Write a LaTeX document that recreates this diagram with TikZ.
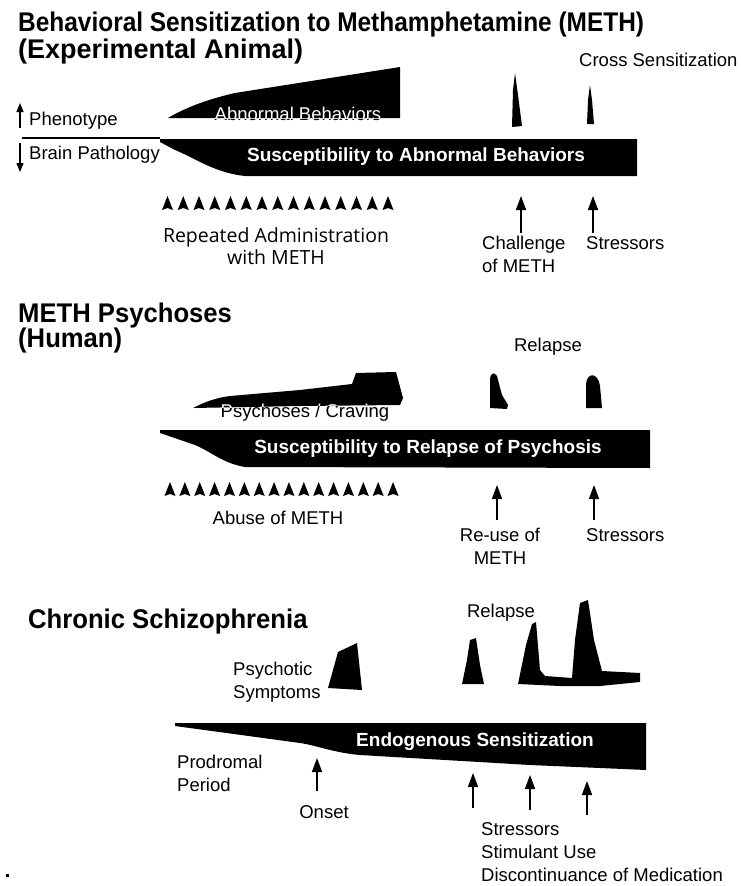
\documentclass[tikz,border=0pt]{standalone}
\usepackage{fontspec}
\setmainfont{Liberation Sans}
\newfontfamily\lucidafam{Open Sans}
\usetikzlibrary{arrows.meta}
\begin{document}
\begin{tikzpicture}[x=1pt,y=-1pt,
  lbl/.style={inner sep=0pt, font=\fontsize{18.5}{23}\selectfont},
  lblL/.style={lbl, align=left},
  ttl/.style={inner sep=0pt, anchor=base west, font=\bfseries\fontsize{27}{30}\selectfont},
  bartxt/.style={inner sep=0pt, text=white, font=\bfseries\fontsize{19}{22}\selectfont},
  uparr/.style={line width=1.6pt, -{Triangle[width=10pt,length=14pt]}},
  smallarr/.style={line width=1.3pt, -{Triangle[width=7pt,length=9pt]}},
]
\useasboundingbox (0,0) rectangle (741,886);

% ---------------- Section 1 ----------------
\node[ttl] (t1) at (18,31) {\scalebox{0.905}[1]{Behavioral Sensitization to Methamphetamine (METH)}};
\node[ttl] (t1b) at (18,58) {\scalebox{1.0}[1]{(Experimental Animal)}};
\node[lbl, anchor=base west] (cross) at (579,66) {Cross Sensitization};

% phenotype / brain pathology
\node[lbl, anchor=west] (pheno) at (29,121) {Phenotype};
\node[lbl, anchor=west] (brain) at (29,155) {Brain Pathology};
\coordinate (pu0) at (20,128); \coordinate (pu1) at (20,103);
\coordinate (pd0) at (20,143); \coordinate (pd1) at (20,172);
\draw[smallarr] (pu0) -- (pu1);
\draw[smallarr] (pd0) -- (pd1);
\coordinate (sepL) at (22,138); \coordinate (sepR) at (160,138);
\draw[line width=1.2pt] (sepL) -- (sepR);

% abnormal behaviors shape
\fill (168,118) .. controls (185,108) and (205,100) .. (235,93) -- (400,67) -- (400,118) -- (300,118) -- cycle;
\node[lbl] (abn) at (298,114) {Abnormal Behaviors};
\begin{scope}
\clip (168,118) .. controls (185,108) and (205,100) .. (235,93) -- (400,67) -- (400,118) -- (300,118) -- cycle;
\node[lbl, text=white] at (298,114) {Abnormal Behaviors};
\end{scope}

% spikes
\fill (512,127) -- (513,90) -- (515,73) -- (518,95) -- (522,126) -- cycle;
\fill (587,124) -- (588,100) -- (590,85) -- (592,100) -- (594,124) -- cycle;

% susceptibility bar 1
\fill (160,139) -- (637,139) -- (637,176) -- (245,176) .. controls (215,173) and (195,158) .. (175,150) -- (160,142) -- cycle;
\node[bartxt] (bar1) at (416,157) {Susceptibility to Abnormal Behaviors};

% triangles row 1
\foreach \i in {0,...,14}{
  \pgfmathsetmacro\xx{167.5+15.75*\i}
  \fill (\xx-5.5,210) -- (\xx,196) -- (\xx+5.5,210) -- (\xx,208) -- cycle;
}
\node[inner sep=0pt, align=center, font=\lucidafam\fontsize{19.5}{22}\selectfont] (rep) at (276,246) {Repeated Administration\\with METH};

\coordinate (a1b) at (521,233); \coordinate (a1t) at (521,196);
\coordinate (a2b) at (593,233); \coordinate (a2t) at (593,196);
\draw[uparr] (a1b) -- (a1t);
\draw[uparr] (a2b) -- (a2t);
\node[lblL, anchor=north west] (chal) at (482,236) {Challenge\\of METH};
\node[lbl, anchor=north west] (str1) at (586,236) {Stressors};

% ---------------- Section 2 ----------------
\node[ttl] (t2) at (18,322) {\scalebox{0.95}[1]{METH Psychoses}};
\node[ttl] (t2b) at (18,347) {\scalebox{0.95}[1]{(Human)}};
\node[lbl, anchor=base] (rel2) at (548,351) {Relapse};

\fill (193,408) .. controls (205,402) and (215,398) .. (230,396) -- (300,390) -- (352,384) -- (356,373) -- (396,372) -- (403,398) -- (400,405) -- (300,406) -- cycle;
\node[lbl] (psy) at (305,413) {Psychoses / Craving};
\begin{scope}
\clip (193,408) .. controls (205,402) and (215,398) .. (230,396) -- (300,390) -- (352,384) -- (356,373) -- (396,372) -- (403,398) -- (400,405) -- (300,406) -- cycle;
\node[lbl, text=white] at (305,413) {Psychoses / Craving};
\end{scope}

% relapse blobs
\fill (490,408) -- (490,380) .. controls (490,371) and (497,371) .. (498,380) -- (502,395) -- (508,405) -- (507,409) -- cycle;
\fill (586,408) -- (586,384) .. controls (587,372) and (598,372) .. (600,386) -- (602,408) -- cycle;

% susceptibility bar 2
\fill (160,430) -- (650,430) -- (650,468) -- (245,467) .. controls (222,463) and (212,452) .. (195,445) -- (160,433) -- cycle;
\node[bartxt] (bar2) at (428,449) {Susceptibility to Relapse of Psychosis};

% triangles row 2
\foreach \i in {0,...,15}{
  \pgfmathsetmacro\xx{170+14.87*\i}
  \fill (\xx-5.5,496) -- (\xx,482) -- (\xx+5.5,496) -- (\xx,494) -- cycle;
}
\node[lbl] (abuse) at (278,518) {Abuse of METH};

\coordinate (b1b) at (497,520); \coordinate (b1t) at (497,485);
\coordinate (b2b) at (594,520); \coordinate (b2t) at (594,485);
\draw[uparr] (b1b) -- (b1t);
\draw[uparr] (b2b) -- (b2t);
\node[lbl, align=center, anchor=north] (reuse) at (500,528) {Re-use of\\METH};
\node[lbl, anchor=north west] (str2) at (586,528) {Stressors};

% ---------------- Section 3 ----------------
\node[ttl] (t3) at (28,628) {\scalebox{0.95}[1]{Chronic Schizophrenia}};
\node[lbl, anchor=base] (rel3) at (501,617) {Relapse};
\node[lblL, anchor=west] (psysym) at (233,682) {Psychotic\\Symptoms};

\fill (328,688) -- (338,652) -- (357,643) -- (362,690) -- cycle;
\fill (462,684) -- (467,660) -- (470,640) -- (476,638) -- (480,665) -- (484,684) -- cycle;
\fill (518,684) -- (526,645) -- (532,624) -- (536,622) -- (540,670) -- (545,676) -- (572,678) -- (575,640) -- (580,603) -- (588,600) -- (594,640) -- (602,671) -- (640,673) -- (640,682) -- (600,686) -- (560,686) -- cycle;

% endogenous bar
\fill (175,723) -- (646,723) -- (646,770) -- (600,768) -- (530,765) -- (360,755) .. controls (335,753) and (315,745) .. (300,743) -- (175,726) -- cycle;
\node[bartxt] (bar3) at (475,742) {Endogenous Sensitization};

\node[lblL, anchor=west] (prod) at (177,773) {Prodromal\\Period};
\coordinate (onb) at (317,791); \coordinate (ont) at (317,758);
\draw[uparr] (onb) -- (ont);
\node[lbl] (onset) at (324,812) {Onset};

\coordinate (c1b) at (473,808); \coordinate (c1t) at (473,773);
\coordinate (c2b) at (530,810); \coordinate (c2t) at (530,775);
\coordinate (c3b) at (587,815); \coordinate (c3t) at (587,781);
\draw[uparr] (c1b) -- (c1t);
\draw[uparr] (c2b) -- (c2t);
\draw[uparr] (c3b) -- (c3t);
\node[lblL, anchor=north west] (causes) at (481,822) {Stressors\\Stimulant Use\\Discontinuance of Medication};

\fill (6,874) rectangle (9,877);
\end{tikzpicture}
\end{document}
